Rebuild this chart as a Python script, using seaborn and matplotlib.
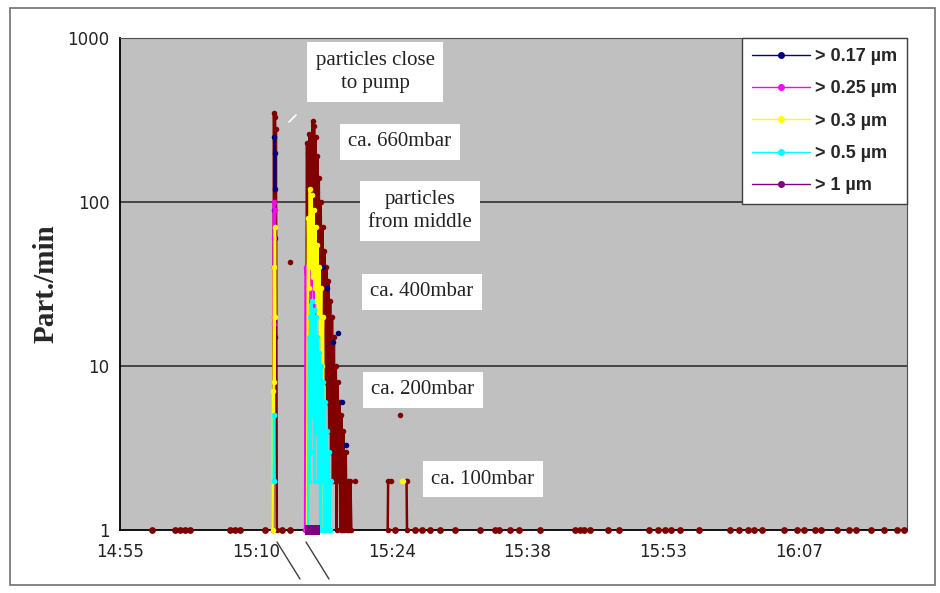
import numpy as np
import pandas as pd
import seaborn as sns
import matplotlib.pyplot as plt
from matplotlib.lines import Line2D
from matplotlib.patches import Rectangle

# minutes after midnight; None = gap in the line
t_017 = [912.05, 912.1, 912.15, None, 912.1, 912.05, None,
         917.2, None, 917.6, None, 918.3, None, 918.8, None, 919.2, None, 919.6]
v_017 = [250, 120, 200, None, 60, 90, None,
         40, None, 30, None, 14, None, 16, None, 6, None, 3.3]

t_025 = [911.95, 912.0, 912.05, 912.1, 912.0, 912.05, None,
         915.3, 915.35, 915.5, 915.7, 915.9, 916.1, 916.3]
v_025 = [20, 100, 40, 90, 18, 60, None,
         1, 40, 30, 50, 25, 60, 20]

t_03 = [911.85, 911.9, 911.95, 912.0, 912.05, 912.1, 912.15, None,
        915.5, 915.6, 915.7, 915.8, 915.9, 916.0, 916.1, 916.2, 916.3,
        916.4, 916.5, 916.6, 916.7, 916.8, 916.9, 917.0, 917.1, 917.2, 917.3,
        None, 925.6, 925.7]
v_03 = [1, 7, 5, 40, 8, 70, 20, None,
        1, 80, 30, 120, 40, 110, 35, 90, 30,
        70, 25, 55, 20, 40, 15, 30, 10, 20, 1,
        None, 2, 2]

t_05 = [911.95, 912.0, 912.05, None,
        915.6, 915.7, 915.75, 915.85, 915.9, 916.0, 916.1, 916.2, 916.3,
        916.4, 916.5, 916.6, 916.7, 916.8, 916.9, 917.0, 917.1, 917.2, 917.3,
        917.4, 917.5, 917.6, 917.7, 917.8, 917.9, 918.0]
v_05 = [2, 5, 2, None,
        1, 15, 2, 20, 3, 25, 5, 22, 2,
        20, 4, 15, 2, 12, 1, 10, 2, 8, 1,
        6, 1, 4, 1, 3, 1, 2]

t_1 = [915.8, 915.9, 916.0, 916.1, 916.2, 916.3]
v_1 = [1, 1, 1, 1, 1, 1]

t_max = [911.9, 912.0, 912.05, 912.1, 912.15, 912.2, 912.3, None,
         915.4, 915.5, 915.55, 915.6, 915.65, 915.75, 915.8, 915.9, 916.0,
         916.1, 916.15, 916.25, 916.3, 916.4, 916.5, 916.6, 916.65, 916.75,
         916.85, 916.95, 917.05, 917.15, 917.25, 917.35, 917.45, 917.55,
         917.65, 917.75, 917.85, 917.95, 918.05, 918.15, 918.25, 918.35,
         918.45, 918.55, 918.65, 918.75, 918.85, 918.95, 919.05, 919.15,
         919.25, 919.35, 919.45, 919.6, 919.7, 919.85, 920.0, 920.1, 920.2,
         None, 924.05, 924.1, 924.35, None, 926.0, 926.05, 926.1]
v_max = [1, 350, 40, 330, 15, 280, 1, None,
         1, 230, 5, 200, 30, 260, 50, 240, 80,
         310, 60, 290, 40, 250, 70, 190, 30, 140,
         20, 100, 15, 70, 12, 50, 8, 40,
         6, 33, 4, 25, 3, 20, 2, 15,
         2, 10, 1, 8, 2, 6, 1, 5,
         1, 4, 1, 3, 1, 2, 1, 2, 1,
         None, 1, 2, 2, None, 2, 2, 1]

# single points
iso_t = [913.7, 920.6, 925.4]
iso_v = [43, 2, 5]

# baseline readings at 1 part./min
base_t = [899.1, 901.5, 902.0, 902.6, 903.1, 907.3, 907.9, 908.4, 911.0,
          912.9, 913.7, 915.6, 916.0, 916.4, 924.8, 926.9, 927.7, 928.5,
          929.6, 931.2, 933.8, 935.4, 935.9, 937.0, 938.0, 940.2, 943.9,
          944.4, 944.9, 945.5, 947.4, 948.6, 951.8, 952.7, 953.4, 954.1,
          955.0, 957.1, 960.3, 961.3, 962.2, 962.9, 963.7, 966.1, 967.4,
          968.2, 969.3, 970.0, 971.7, 973.0, 973.7, 975.3, 976.7, 978.0, 978.8]

labels = ['> 0.17 µm', '> 0.25 µm', '> 0.3 µm', '> 0.5 µm', '> 1 µm']
colors = ['#000080', '#FF00FF', '#FFFF00', '#00FFFF', '#800080']
max_color = '#800000'

tick_pos = [895.68, 910.08, 924.48, 938.88, 953.28, 967.68]
tick_labels = ['14:55', '15:10', '15:24', '15:38', '15:53', '16:07']

rows = []
seg = 0
all_series = [('max', t_max, v_max), (labels[0], t_017, v_017),
              (labels[1], t_025, v_025), (labels[2], t_03, v_03),
              (labels[3], t_05, v_05), (labels[4], t_1, v_1)]
for name, ts, vs in all_series:
    seg += 1
    for t, v in zip(ts, vs):
        if t is None:
            seg += 1
            continue
        rows.append((name, seg, t, v))
df = pd.DataFrame(rows, columns=['series', 'seg', 't', 'v'])

palette = dict(zip(labels, colors))
palette['max'] = max_color

sns.set_style('white')
fig = plt.figure(figsize=(9.4, 5.93), dpi=100)
ax = fig.add_axes([0.1277, 0.1062, 0.8372, 0.8297])
ax.set_facecolor('#C0C0C0')

ax.set_yscale('log')
ax.set_ylim(1, 1000)
ax.set_xlim(895.68, 979.1)

for y in [10, 100]:
    ax.axhline(y, color='#303030', lw=1.2, zorder=1)

sns.lineplot(data=df, x='t', y='v', hue='series', units='seg', estimator=None,
             hue_order=['max'] + labels, palette=palette, sort=False,
             marker='o', markersize=4, markeredgewidth=0, lw=1.8,
             legend=False, ax=ax, zorder=3)
sns.scatterplot(x=iso_t, y=iso_v, color=max_color, s=16, linewidth=0, ax=ax, zorder=4)
sns.scatterplot(x=base_t, y=[1] * len(base_t), color=max_color, s=24,
                linewidth=0, ax=ax, zorder=4, clip_on=False)
sns.scatterplot(x=t_1, y=v_1, color='#800080', marker='s', s=45,
                linewidth=0, ax=ax, zorder=5, clip_on=False)
for ln in ax.lines:
    ln.set_clip_on(False)

ax.yaxis.set_major_locator(plt.FixedLocator([1, 10, 100, 1000]))
ax.yaxis.set_minor_locator(plt.NullLocator())
ax.set_yticklabels(['1', '10', '100', '1000'])
ax.set_xticks(tick_pos)
ax.set_xticklabels(tick_labels)
ax.tick_params(axis='both', direction='out', length=4, width=1, color='black',
               labelsize=12, labelcolor='#222222')
ax.tick_params(axis='x', pad=5)
ax.set_xlabel('')
ax.set_ylabel('Part./min', fontsize=21, fontweight='bold',
              family='Liberation Serif', labelpad=6)

for side in ['top', 'right']:
    ax.spines[side].set_color('#505050')
for side in ['left', 'bottom']:
    ax.spines[side].set_color('black')
    ax.spines[side].set_linewidth(1.3)

handles = [Line2D([], [], color=c, marker='o', markersize=4, lw=1)
           for c in colors]
leg = ax.legend(handles, labels, loc='upper right', frameon=True,
                fancybox=False, framealpha=1, edgecolor='#404040',
                borderaxespad=0, handlelength=3.2, handletextpad=0.3,
                labelspacing=0.85, borderpad=0.55,
                prop={'family': 'Liberation Sans', 'weight': 'bold', 'size': 13})
leg.get_frame().set_linewidth(1)

boxes = [("particles close\nto pump", 375, 72),
         ("ca. 660mbar", 400, 142),
         ("particles\nfrom middle", 420, 211),
         ("ca. 400mbar", 422, 292),
         ("ca. 200mbar", 423, 390),
         ("ca. 100mbar", 483, 479)]
for txt, px, py in boxes:
    fig.text(px / 940, 1 - py / 593, txt, ha='center', va='center',
             family='Liberation Serif', fontsize=15, color='#222222',
             linespacing=1.35,
             bbox=dict(facecolor='white', edgecolor='none', pad=6))

# axis break marks and frame
for x0, x1 in [(277, 300), (306, 329)]:
    fig.add_artist(Line2D([x0 / 940, x1 / 940], [1 - 542 / 593, 1 - 579 / 593],
                          color='#404040', lw=1))
fig.add_artist(Line2D([289 / 940, 296 / 940], [1 - 122 / 593, 1 - 115 / 593],
                      color='white', lw=1.2))
fig.add_artist(Rectangle((10 / 940, 8 / 593), 925 / 940, 577 / 593,
                         fill=False, edgecolor='#707070', lw=1.2))

fig.savefig('out.png', dpi=100)
